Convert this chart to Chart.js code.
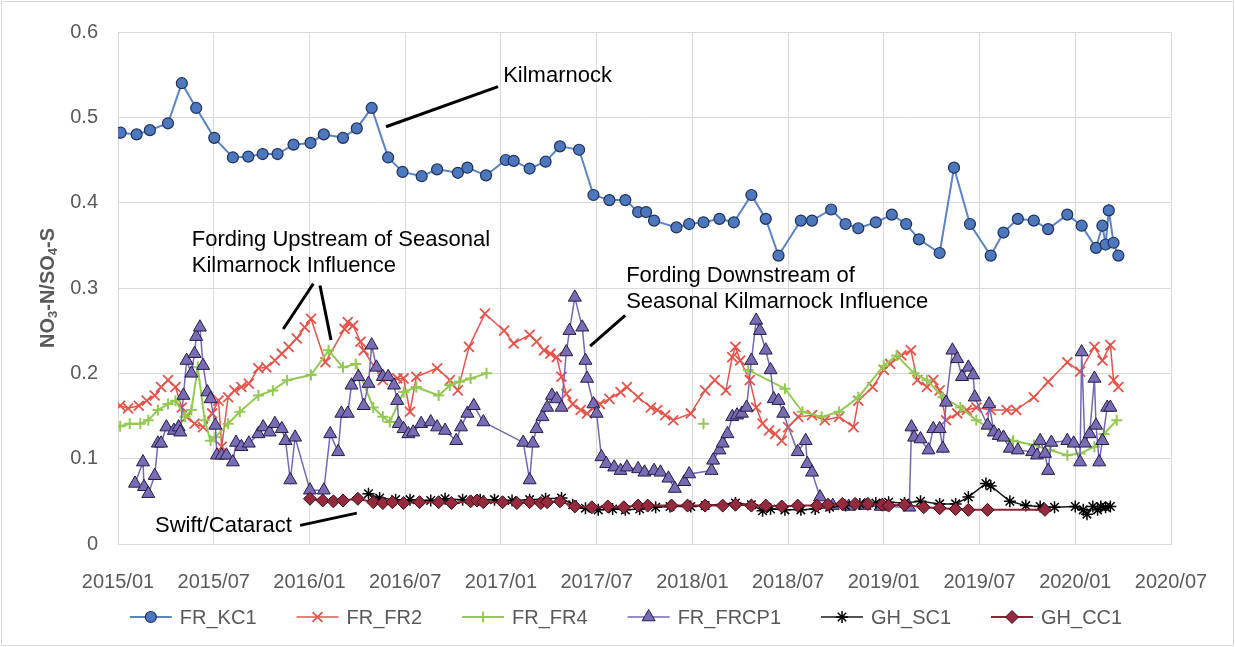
<!DOCTYPE html>
<html>
<head>
<meta charset="utf-8">
<script src="https://cdn.jsdelivr.net/npm/chart.js@4.4.0/dist/chart.umd.min.js"></script>
<style>
html,body{margin:0;padding:0;background:#fff;}
#wrap{width:1235px;height:647px;}
</style>
</head>
<body>
<div id="wrap"><canvas id="chart" width="1235" height="647"></canvas></div>
<script>
// sampling dates and NO3-N/SO4-S ratios per station
var kc1Dates=['2015-01-06','2015-02-06','2015-03-01','2015-04-05','2015-05-01','2015-05-28','2015-07-02','2015-08-07','2015-09-06','2015-10-03',
 '2015-11-01','2015-12-01','2016-01-03','2016-01-28','2016-03-04','2016-03-30','2016-04-28','2016-05-29','2016-06-26','2016-08-02',
 '2016-09-01','2016-10-10','2016-10-28','2016-12-03','2017-01-10','2017-01-25','2017-02-25','2017-03-25','2017-04-22','2017-05-28',
 '2017-06-25','2017-07-25','2017-08-25','2017-09-19','2017-10-04','2017-10-19','2017-12-01','2017-12-25','2018-01-22','2018-02-22',
 '2018-03-19','2018-04-22','2018-05-19','2018-06-13','2018-07-25','2018-08-16','2018-09-22','2018-10-19','2018-11-13','2018-12-16',
 '2019-01-16','2019-02-13','2019-03-07','2019-04-16','2019-05-13','2019-06-13','2019-07-22','2019-08-16','2019-09-13','2019-10-13',
 '2019-11-10','2019-12-16','2020-01-13','2020-02-10','2020-02-22','2020-02-28','2020-03-04','2020-03-13','2020-03-22'];
var kc1Vals=[0.482,0.480,0.485,0.493,0.540,0.511,0.476,0.453,0.454,0.457,
 0.457,0.468,0.470,0.480,0.476,0.487,0.511,0.453,0.436,0.431,
 0.439,0.435,0.441,0.432,0.450,0.449,0.440,0.448,0.466,0.462,
 0.409,0.403,0.403,0.389,0.389,0.379,0.371,0.375,0.377,0.381,
 0.377,0.409,0.381,0.338,0.379,0.379,0.392,0.375,0.370,0.377,
 0.386,0.375,0.357,0.341,0.441,0.375,0.338,0.365,0.381,0.379,
 0.369,0.386,0.373,0.347,0.373,0.351,0.391,0.353,0.338];

var fr2Dates=['2015-01-05','2015-01-20','2015-02-10','2015-02-25','2015-03-10','2015-03-22','2015-04-05','2015-04-19','2015-05-01','2015-05-10',
 '2015-05-25','2015-06-11','2015-06-28','2015-07-10','2015-07-16','2015-07-28','2015-08-10','2015-08-23','2015-09-07','2015-09-25',
 '2015-10-10','2015-10-26','2015-11-09','2015-11-22','2015-12-07','2015-12-22','2016-01-04','2016-02-01','2016-03-07','2016-03-13',
 '2016-03-23','2016-04-07','2016-04-13','2016-05-19','2016-06-16','2016-06-28','2016-07-10','2016-07-22','2016-09-01','2016-09-25',
 '2016-10-10','2016-11-01','2016-12-01','2017-01-07','2017-01-25','2017-02-25','2017-03-08','2017-03-22','2017-04-04','2017-04-16',
 '2017-04-25','2017-05-04','2017-05-16','2017-06-01','2017-06-13','2017-07-07','2017-07-25','2017-08-16','2017-08-28','2017-09-19',
 '2017-10-13','2017-10-25','2017-11-10','2017-11-25','2017-12-28','2018-01-25','2018-02-13','2018-03-04','2018-03-16','2018-03-22',
 '2018-04-01','2018-04-19','2018-05-01','2018-05-13','2018-05-25','2018-06-07','2018-06-19','2018-07-01','2018-07-20','2018-08-16',
 '2018-09-10','2018-10-07','2018-11-04','2018-11-13','2018-12-10','2019-01-01','2019-01-13','2019-02-04','2019-02-22','2019-03-04',
 '2019-03-22','2019-04-04','2019-04-16','2019-04-28','2019-05-19','2019-06-07','2019-06-25','2019-07-22','2019-08-22','2019-09-10',
 '2019-10-13','2019-11-10','2019-12-16','2020-01-10','2020-02-07','2020-02-22','2020-03-07','2020-03-13','2020-03-22'];
var fr2Vals=[0.162,0.159,0.162,0.168,0.174,0.184,0.192,0.184,0.160,0.149,
 0.141,0.137,0.153,0.168,0.114,0.172,0.180,0.184,0.188,0.206,
 0.207,0.215,0.223,0.231,0.241,0.254,0.264,0.213,0.252,0.260,
 0.256,0.237,0.227,0.192,0.194,0.194,0.155,0.196,0.206,0.192,
 0.180,0.231,0.270,0.250,0.235,0.245,0.237,0.227,0.223,0.219,
 0.196,0.176,0.164,0.157,0.153,0.164,0.170,0.178,0.184,0.172,
 0.160,0.157,0.151,0.145,0.153,0.180,0.192,0.180,0.219,0.231,
 0.215,0.192,0.160,0.141,0.133,0.129,0.121,0.137,0.149,0.151,
 0.145,0.149,0.137,0.168,0.184,0.204,0.211,0.221,0.227,0.192,
 0.184,0.192,0.180,0.145,0.153,0.157,0.160,0.157,0.157,0.157,
 0.172,0.190,0.213,0.202,0.231,0.215,0.233,0.192,0.184];

var fr4Dates=['2015-01-05','2015-01-23','2015-02-13','2015-02-28','2015-03-16','2015-04-05','2015-04-19','2015-05-07','2015-05-19','2015-06-01',
 '2015-06-14','2015-06-25','2015-07-04','2015-07-28','2015-08-20','2015-09-25','2015-10-22','2015-11-19','2016-01-04','2016-02-07',
 '2016-03-04','2016-03-28','2016-05-01','2016-05-19','2016-06-02','2016-06-28','2016-07-22','2016-09-04','2016-09-25','2016-10-13',
 '2016-11-04','2016-12-04','2017-06-01','2018-01-22','2018-03-01','2018-04-16','2018-06-25','2018-07-28','2018-09-04','2018-10-07',
 '2018-11-13','2019-01-01','2019-01-25','2019-02-28','2019-03-22','2019-04-22','2019-05-25','2019-06-25','2019-07-28','2019-09-04',
 '2019-10-13','2019-11-13','2019-12-16','2020-01-10','2020-02-07','2020-02-25','2020-03-19'];
var fr4Vals=[0.138,0.141,0.141,0.145,0.157,0.164,0.168,0.149,0.157,0.207,
 0.145,0.121,0.125,0.141,0.155,0.174,0.180,0.192,0.198,0.227,
 0.207,0.211,0.160,0.149,0.143,0.178,0.184,0.174,0.186,0.190,
 0.194,0.200,null,0.141,null,0.204,0.182,0.155,0.149,0.155,
 0.172,0.209,0.221,0.200,0.192,0.172,0.160,0.145,0.133,0.121,
 0.116,0.110,0.104,0.106,0.114,0.129,0.145];

var frcp1Dates=['2015-02-03','2015-02-18','2015-02-20','2015-02-28','2015-03-10','2015-03-16','2015-03-22','2015-04-02','2015-04-16','2015-04-25',
 '2015-04-28','2015-05-04','2015-05-10','2015-05-19','2015-05-25','2015-05-28','2015-06-05','2015-06-11','2015-06-19','2015-06-25',
 '2015-07-04','2015-07-07','2015-07-16','2015-07-25','2015-08-07','2015-08-13','2015-08-23','2015-09-07','2015-09-25','2015-10-04',
 '2015-10-16','2015-10-26','2015-11-09','2015-11-16','2015-11-25','2015-12-04','2016-01-02','2016-01-28','2016-02-10','2016-02-25',
 '2016-03-01','2016-03-13','2016-03-20','2016-04-03','2016-04-13','2016-04-22','2016-04-28','2016-05-07','2016-05-19','2016-05-29',
 '2016-06-10','2016-06-16','2016-06-19','2016-06-28','2016-07-07','2016-07-16','2016-08-01','2016-08-19','2016-09-01','2016-09-16',
 '2016-10-07','2016-10-16','2016-10-28','2016-11-10','2016-11-28','2017-02-13','2017-02-25','2017-03-01','2017-03-08','2017-03-19',
 '2017-03-28','2017-04-07','2017-04-16','2017-04-25','2017-05-04','2017-05-10','2017-05-20','2017-06-04','2017-06-10','2017-06-13',
 '2017-06-25','2017-07-01','2017-07-10','2017-07-19','2017-08-04','2017-08-16','2017-08-28','2017-09-19','2017-10-01','2017-10-19',
 '2017-11-01','2017-11-16','2017-11-28','2017-12-16','2017-12-25','2018-02-07','2018-02-10','2018-02-22','2018-02-28','2018-03-07',
 '2018-03-16','2018-03-25','2018-04-04','2018-04-13','2018-04-22','2018-05-01','2018-05-08','2018-05-19','2018-05-28','2018-06-04',
 '2018-06-13','2018-06-22','2018-07-19','2018-08-04','2018-08-07','2018-08-16','2018-09-01','2018-09-25','2018-10-25','2018-11-25',
 '2018-12-25','2019-02-19','2019-02-23','2019-02-28','2019-03-10','2019-03-25','2019-04-04','2019-04-16','2019-04-22','2019-04-28',
 '2019-05-10','2019-05-19','2019-05-28','2019-06-10','2019-06-19','2019-06-22','2019-07-16','2019-07-19','2019-07-28','2019-08-07',
 '2019-08-16','2019-08-28','2019-09-13','2019-10-10','2019-10-19','2019-10-25','2019-11-04','2019-11-10','2019-11-16','2019-12-16',
 '2019-12-28','2020-01-10','2020-01-13','2020-01-19','2020-01-28','2020-02-07','2020-02-10','2020-02-16','2020-02-22','2020-03-01',
 '2020-03-07'];
var frcp1Vals=[0.071,0.096,0.067,0.059,0.080,0.118,0.118,0.137,0.133,0.137,
 0.131,0.174,0.215,0.200,0.223,0.243,0.254,0.209,0.178,0.170,
 0.139,0.104,0.104,0.104,0.096,0.119,0.114,0.118,0.129,0.137,
 0.131,0.141,0.135,0.121,0.075,0.125,0.063,0.063,0.129,0.108,
 0.153,0.153,0.186,0.196,0.162,0.188,0.233,0.207,0.196,0.196,
 0.186,0.168,0.141,0.135,0.129,0.131,0.141,0.143,0.137,0.133,
 0.121,0.137,0.153,0.162,0.143,0.119,0.075,0.118,0.135,0.149,
 0.160,0.174,0.170,0.160,0.225,0.250,0.289,0.254,0.215,0.194,
 0.164,0.153,0.102,0.094,0.090,0.086,0.090,0.088,0.084,0.086,
 0.084,0.077,0.065,0.073,0.082,0.086,0.098,0.110,0.118,0.129,
 0.149,0.151,0.153,0.160,0.215,0.262,0.250,0.227,0.204,0.170,
 0.168,0.153,0.108,0.121,0.094,0.084,0.055,0.045,0.044,0.045,
 0.044,0.043,0.137,0.125,0.123,0.110,0.135,0.135,0.112,0.166,
 0.227,0.217,0.196,0.207,0.198,0.172,0.139,0.164,0.131,0.127,
 0.125,0.112,0.110,0.108,0.104,0.121,0.106,0.086,0.119,0.121,
 0.118,0.096,0.225,0.118,0.129,0.194,0.139,0.096,0.121,0.160,
 0.160];

var sc1Dates=['2016-04-22','2016-05-13','2016-06-13','2016-07-10','2016-08-19','2016-09-16','2016-10-19','2016-11-22','2016-12-19','2017-01-22',
 '2017-02-25','2017-03-25','2017-04-25','2017-05-16','2017-06-10','2017-07-04','2017-08-01','2017-08-25','2017-09-22','2017-10-22',
 '2017-11-19','2017-12-28','2018-01-25','2018-03-22','2018-04-22','2018-05-13','2018-05-28','2018-06-25','2018-07-25','2018-08-22',
 '2018-09-19','2018-10-19','2018-11-16','2018-12-16','2019-01-10','2019-02-10','2019-03-10','2019-04-16','2019-05-16','2019-06-10',
 '2019-07-13','2019-07-22','2019-08-28','2019-09-28','2019-10-25','2019-11-22','2020-01-01','2020-01-16','2020-01-23','2020-02-04',
 '2020-02-13','2020-02-19','2020-02-28','2020-03-07'];
var sc1Vals=[0.059,0.054,0.052,0.052,0.051,0.053,0.052,0.052,0.052,0.051,
 0.052,0.053,0.054,0.046,0.042,0.040,0.041,0.040,0.041,0.043,
 0.044,0.044,0.045,0.048,0.046,0.039,0.041,0.040,0.040,0.041,
 0.043,0.045,0.047,0.048,0.049,0.048,0.050,0.047,0.047,0.055,
 0.071,0.068,0.050,0.045,0.044,0.043,0.044,0.040,0.035,0.044,
 0.040,0.044,0.043,0.044];

var cc1Dates=['2016-01-02','2016-01-26','2016-02-16','2016-03-04','2016-04-02','2016-05-01','2016-05-19','2016-06-07','2016-06-28','2016-07-28',
 '2016-09-04','2016-09-28','2016-11-04','2016-11-16','2016-11-28','2017-01-04','2017-02-01','2017-02-25','2017-03-16','2017-03-28',
 '2017-04-22','2017-05-20','2017-06-22','2017-07-22','2017-08-22','2017-09-19','2017-10-07','2017-11-22','2017-12-22','2018-01-25',
 '2018-02-28','2018-03-22','2018-04-22','2018-05-19','2018-06-19','2018-07-19','2018-08-25','2018-09-16','2018-10-13','2018-11-07',
 '2018-12-01','2018-12-28','2019-01-10','2019-02-10','2019-03-16','2019-04-16','2019-05-16','2019-06-10','2019-07-16','2019-11-04'];
var cc1Vals=[0.053,0.051,0.050,0.051,0.053,0.049,0.048,0.049,0.048,0.049,
 0.049,0.048,0.050,0.051,0.049,0.049,0.048,0.049,0.048,0.049,
 0.050,0.044,0.043,0.044,0.043,0.045,0.045,0.045,0.045,0.045,
 0.045,0.046,0.045,0.045,0.044,0.045,0.045,0.046,0.047,0.047,
 0.047,0.046,0.045,0.046,0.043,0.042,0.041,0.040,0.040,0.040];

var seriesNames=['FR_KC1','FR_FR2','FR_FR4','FR_FRCP1','GH_SC1','GH_CC1'];
var xTickLabels=['2015/01','2015/07','2016/01','2016/07','2017/01','2017/07','2018/01','2018/07','2019/01','2019/07','2020/01','2020/07'];
var yTickLabels=['0','0.1','0.2','0.3','0.4','0.5','0.6'];

// callouts, positioned in axis units (months since 2015/01, ratio)
var notes=[
  {text:['Kilmarnock'], at:[24.14,0.541], leaders:[[16.8,0.489,23.82,0.536]]},
  {text:['Fording Upstream of Seasonal','Kilmarnock Influence'], at:[4.62,0.349], leaders:[[12.24,0.305,10.36,0.252],[12.66,0.303,13.35,0.239]]},
  {text:['Fording Downstream of','Seasonal Kilmarnock Influence'], at:[31.85,0.307], leaders:[[31.79,0.268,29.59,0.232]]},
  {text:['Swift/Cataract'], at:[2.32,0.0136], leaders:[[11.41,0.0218,14.97,0.0362]]}
];

function toMonths(s){
  var p=s.split('-');
  return (p[0]-2015)*12+(p[1]-1)+(p[2]-1)/30;
}
function pts(dates,vals){
  return dates.map(function(d,i){return {x:toMonths(d),y:vals[i]};});
}

var FONT='"Liberation Sans", Arial, sans-serif';
var GREY='#595959';

var datasets=[
  {label:seriesNames[0],data:pts(kc1Dates,kc1Vals),order:6,borderColor:'#5b83c7',borderWidth:2,
   pointStyle:'circle',pointRadius:5.5,pointBackgroundColor:'#4e78bd',pointBorderColor:'#1f3057',pointBorderWidth:1.2},
  {label:seriesNames[1],data:pts(fr2Dates,fr2Vals),order:5,borderColor:'#e5534b',borderWidth:1.5,
   pointStyle:'crossRot',pointRadius:7,pointBackgroundColor:'#e5534b',pointBorderColor:'#e5534b',pointBorderWidth:1.8},
  {label:seriesNames[2],data:pts(fr4Dates,fr4Vals),order:4,borderColor:'#93c952',borderWidth:2,
   pointStyle:'cross',pointRadius:5.5,pointBackgroundColor:'#93c952',pointBorderColor:'#93c952',pointBorderWidth:2},
  {label:seriesNames[3],data:pts(frcp1Dates,frcp1Vals),order:3,borderColor:'#7567b5',borderWidth:1.5,
   pointStyle:'triangle',pointRadius:7.5,pointBackgroundColor:'#7a6bb5',pointBorderColor:'#231d45',pointBorderWidth:1},
  {label:seriesNames[4],data:pts(sc1Dates,sc1Vals),order:2,borderColor:'#1a1a1a',borderWidth:1.5,
   pointStyle:'star',pointRadius:6,pointBackgroundColor:'#000',pointBorderColor:'#000',pointBorderWidth:1.5},
  {label:seriesNames[5],data:pts(cc1Dates,cc1Vals),order:1,borderColor:'#8c2437',borderWidth:2,
   pointStyle:'rectRot',pointRadius:6.5,pointBackgroundColor:'#952a3e',pointBorderColor:'#3a0b16',pointBorderWidth:1}
];
datasets.forEach(function(d){d.tension=0;d.spanGaps=false;d.fill=false;});

// leader lines + callout text
var calloutPlugin={
  id:'callouts',
  afterDatasetsDraw:function(chart){
    var ctx=chart.ctx, xs=chart.scales.x, ys=chart.scales.y;
    ctx.save();
    ctx.strokeStyle='#000';
    ctx.lineWidth=3;
    ctx.fillStyle='#000';
    ctx.font='22px '+FONT;
    ctx.textBaseline='alphabetic';
    notes.forEach(function(n){
      n.leaders.forEach(function(l){
        ctx.beginPath();
        ctx.moveTo(xs.getPixelForValue(l[0]),ys.getPixelForValue(l[1]));
        ctx.lineTo(xs.getPixelForValue(l[2]),ys.getPixelForValue(l[3]));
        ctx.stroke();
      });
      var x=xs.getPixelForValue(n.at[0]), y=ys.getPixelForValue(n.at[1]);
      n.text.forEach(function(t,i){ctx.fillText(t,x,y+i*26);});
    });
    ctx.restore();
  }
};

// rotated axis title with subscripts, legend and outer frame
var decorPlugin={
  id:'decor',
  afterDraw:function(chart){
    var ctx=chart.ctx, a=chart.chartArea;
    ctx.save();
    // y title
    var parts=[['NO',0],['3',1],['-N/SO',0],['4',1],['-S',0]];
    var big='bold 20px '+FONT, small='bold 13px '+FONT;
    var total=0;
    parts.forEach(function(p){ctx.font=p[1]?small:big;total+=ctx.measureText(p[0]).width;});
    ctx.translate(48,(a.top+a.bottom)/2);
    ctx.rotate(-Math.PI/2);
    ctx.fillStyle=GREY;
    ctx.textBaseline='middle';
    var cx=-total/2;
    parts.forEach(function(p){
      ctx.font=p[1]?small:big;
      ctx.fillText(p[0],cx,p[1]?5:0);
      cx+=ctx.measureText(p[0]).width;
    });
    ctx.restore();

    // legend
    ctx.save();
    ctx.font='20px '+FONT;
    ctx.textBaseline='middle';
    var seg=42, gap=8, itemGap=40, y=617;
    var widths=chart.data.datasets.map(function(d){return seg+gap+ctx.measureText(d.label).width;});
    var sum=widths.reduce(function(s,w){return s+w;},0)+itemGap*(widths.length-1);
    var x=626-sum/2;
    chart.data.datasets.forEach(function(d,i){
      ctx.strokeStyle=d.borderColor;
      ctx.lineWidth=d.borderWidth;
      ctx.beginPath();ctx.moveTo(x,y);ctx.lineTo(x+seg,y);ctx.stroke();
      ctx.fillStyle=d.pointBackgroundColor;
      ctx.strokeStyle=d.pointBorderColor;
      ctx.lineWidth=d.pointBorderWidth;
      Chart.helpers.drawPoint(ctx,{pointStyle:d.pointStyle,radius:d.pointRadius,rotation:0,borderWidth:d.pointBorderWidth},x+seg/2,y);
      ctx.fillStyle=GREY;
      ctx.fillText(d.label,x+seg+gap,y+1);
      x+=widths[i]+itemGap;
    });
    ctx.restore();

    ctx.save();
    ctx.strokeStyle='#d9d9d9';
    ctx.lineWidth=1;
    ctx.strokeRect(1.5,1.5,chart.width-3,chart.height-3);
    ctx.restore();
  }
};

new Chart(document.getElementById('chart'),{
  type:'line',
  data:{datasets:datasets},
  options:{
    responsive:false,
    animation:false,
    devicePixelRatio:1,
    layout:{padding:{left:0,right:64,top:32,bottom:0}},
    plugins:{legend:{display:false},tooltip:{enabled:false}},
    scales:{
      x:{
        type:'linear',min:0,max:66,
        afterFit:function(s){s.height=103;},
        grid:{color:'#d9d9d9',drawTicks:false},
        border:{color:'#d9d9d9'},
        ticks:{stepSize:6,autoSkip:false,maxRotation:0,padding:26,color:GREY,font:{family:FONT,size:20},
          callback:function(v){return xTickLabels[Math.round(v/6)];}}
      },
      y:{
        min:0,max:0.6,
        afterFit:function(s){s.width=118;},
        grid:{color:'#d9d9d9',drawTicks:false},
        border:{display:false},
        ticks:{stepSize:0.1,padding:20,color:GREY,font:{family:FONT,size:20},
          callback:function(v){return yTickLabels[Math.round(v*10)];}}
      }
    }
  },
  plugins:[calloutPlugin,decorPlugin]
});
</script>
</body>
</html>
